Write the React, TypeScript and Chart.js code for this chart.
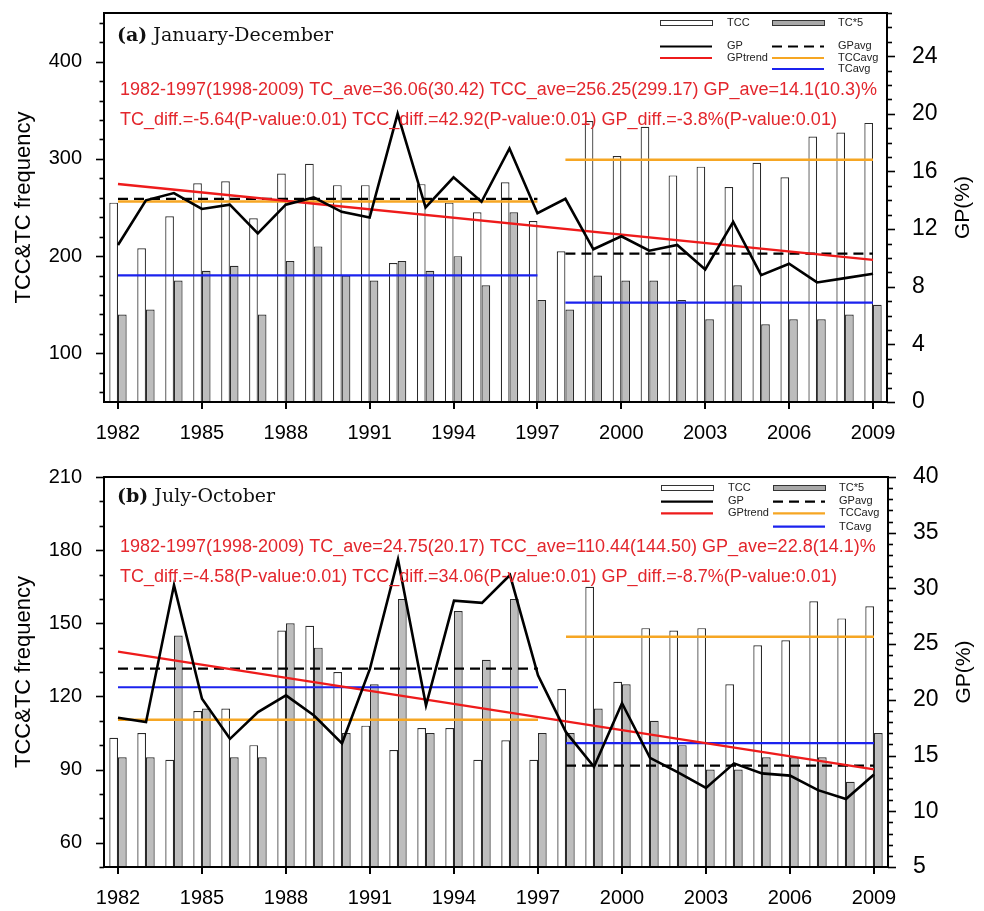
import React, { useEffect, useRef } from 'react';
import { Chart, registerables } from 'chart.js';

Chart.register(...registerables);

// ---------------- data ----------------
const YEARS = [
  1982, 1983, 1984, 1985, 1986, 1987, 1988, 1989, 1990, 1991, 1992, 1993, 1994, 1995,
  1996, 1997, 1998, 1999, 2000, 2001, 2002, 2003, 2004, 2005, 2006, 2007, 2008, 2009,
];
const SPLIT_YEAR = 1998;
const X_LABEL_EVERY = 3;

// (a) January-December
const TCC_A = [255, 208, 241, 275, 277, 239, 285, 295, 273, 273, 193, 274, 255, 245, 276, 236,
  205, 339, 303, 333, 283, 292, 271, 296, 281, 323, 327, 337];
const TC5_A = [140, 145, 175, 185, 190, 140, 195, 210, 180, 175, 195, 185, 200, 170, 245, 155,
  145, 180, 175, 175, 155, 135, 170, 130, 135, 135, 140, 150];
const GP_A = [10.9, 14.0, 14.5, 13.4, 13.7, 11.7, 13.7, 14.2, 13.2, 12.8, 20.0, 13.5, 15.6, 13.9, 17.6, 13.1,
  14.1, 10.6, 11.5, 10.5, 10.9, 9.2, 12.5, 8.8, 9.6, 8.3, 8.6, 8.9];
const GP_AVG_A = [14.1, 10.3];
const TCC_AVG_A = [256.25, 299.17];
const TC_AVG_A = [180.3, 152.1];
const GP_TREND_A = [15.13, 9.86];
const STATS_A = [
  '1982-1997(1998-2009) TC_ave=36.06(30.42) TCC_ave=256.25(299.17) GP_ave=14.1(10.3)%',
  'TC_diff.=-5.64(P-value:0.01) TCC_diff.=42.92(P-value:0.01) GP_diff.=-3.8%(P-value:0.01)',
];
const LEFT_TICKS_A = [100, 200, 300, 400];
const RIGHT_TICKS_A = [0, 4, 8, 12, 16, 20, 24];

// (b) July-October
const TCC_B = [103, 105, 94, 114, 115, 100, 147, 149, 130, 108, 98, 107, 107, 94, 102, 94,
  123, 165, 126, 148, 147, 148, 125, 141, 143, 159, 152, 157];
const TC5_B = [95, 95, 145, 115, 95, 95, 150, 140, 105, 125, 160, 105, 155, 135, 160, 105,
  105, 115, 125, 110, 100, 90, 90, 95, 95, 95, 85, 105];
const GP_B = [18.4, 18.0, 30.3, 20.1, 16.5, 18.9, 20.4, 18.6, 16.1, 22.8, 32.6, 19.5, 28.9, 28.7, 31.2, 22.2,
  17.1, 14.0, 19.7, 14.8, 13.5, 12.1, 14.3, 13.4, 13.2, 11.9, 11.1, 13.3];
const GP_AVG_B = [22.8, 14.1];
const TCC_AVG_B = [110.44, 144.5];
const TC_AVG_B = [123.75, 100.85];
const GP_TREND_B = [24.32, 13.77];
const STATS_B = [
  '1982-1997(1998-2009) TC_ave=24.75(20.17) TCC_ave=110.44(144.50) GP_ave=22.8(14.1)%',
  'TC_diff.=-4.58(P-value:0.01) TCC_diff.=34.06(P-value:0.01) GP_diff.=-8.7%(P-value:0.01)',
];
const LEFT_TICKS_B = [60, 90, 120, 150, 180, 210];
const RIGHT_TICKS_B = [5, 10, 15, 20, 25, 30, 35, 40];

const LEFT_TITLE = 'TCC&TC frequency';
const RIGHT_TITLE = 'GP(%)';

// ---------------- styles ----------------
const FONT = "'Liberation Sans', Arial, Helvetica, sans-serif";
const SERIF = "'DejaVu Serif', 'Liberation Serif', serif";
const RED_TEXT = '#e3262c';
const RED_LINE = '#ee1b1b';
const ORANGE = '#f6a623';
const BLUE = '#1b22ee';
const GRAY = '#bdbdbd';

type PanelData = {
  tcc: number[]; tc5: number[]; gp: number[];
  gpAvg: number[]; tccAvg: number[]; tcAvg: number[]; gpTrend: number[];
  stats: string[]; labelBold: string; labelRest: string;
  leftTicks: number[]; rightTicks: number[];
};

type Layout = {
  top: number; height: number; padTop: number; xHeight: number; rightWidth: number;
  leftMin: number; leftMax: number; leftMinor: number;
  rightMin: number; rightMax: number; rightMinor: number;
  legendRows: number[]; statsRows: number[]; labelRow: number;
};

const PANEL_A: PanelData = {
  tcc: TCC_A, tc5: TC5_A, gp: GP_A, gpAvg: GP_AVG_A, tccAvg: TCC_AVG_A, tcAvg: TC_AVG_A,
  gpTrend: GP_TREND_A, stats: STATS_A, labelBold: '(a)', labelRest: ' January-December',
  leftTicks: LEFT_TICKS_A, rightTicks: RIGHT_TICKS_A,
};
const PANEL_B: PanelData = {
  tcc: TCC_B, tc5: TC5_B, gp: GP_B, gpAvg: GP_AVG_B, tccAvg: TCC_AVG_B, tcAvg: TC_AVG_B,
  gpTrend: GP_TREND_B, stats: STATS_B, labelBold: '(b)', labelRest: ' July-October',
  leftTicks: LEFT_TICKS_B, rightTicks: RIGHT_TICKS_B,
};

const LAYOUT_A: Layout = {
  top: 0, height: 455, padTop: 13, xHeight: 53, rightWidth: 97,
  leftMin: 50, leftMax: 450, leftMinor: 20, rightMin: 0, rightMax: 27, rightMinor: 1,
  legendRows: [10, 33.5, 45, 56], statsRows: [77, 107], labelRow: 23,
};
const LAYOUT_B: Layout = {
  top: 455, height: 456, padTop: 22, xHeight: 44, rightWidth: 96,
  leftMin: 50, leftMax: 210, leftMinor: 10, rightMin: 5, rightMax: 40, rightMinor: 1,
  legendRows: [11, 24.7, 36.3, 49.7], statsRows: [69.7, 99.7], labelRow: 19.7,
};

function overlayPlugin(p: PanelData, L: Layout) {
  return {
    id: 'overlay',
    afterDraw(chart: any) {
      const ctx: CanvasRenderingContext2D = chart.ctx;
      const a = chart.chartArea;
      const xs = chart.scales.x;
      const yl = chart.scales.y;
      const yr = chart.scales.y1;
      ctx.save();
      ctx.strokeStyle = '#000';
      ctx.fillStyle = '#000';
      ctx.lineWidth = 1.6;
      ctx.setLineDash([]);
      // left ticks
      for (let v = Math.ceil(L.leftMin / L.leftMinor) * L.leftMinor; v <= L.leftMax + 1e-9; v += L.leftMinor) {
        const py = Math.round(yl.getPixelForValue(v)) + 0.5;
        const len = p.leftTicks.includes(v) ? 8 : 4.5;
        ctx.beginPath(); ctx.moveTo(a.left - len, py); ctx.lineTo(a.left, py); ctx.stroke();
      }
      // right ticks
      for (let v = Math.ceil(L.rightMin / L.rightMinor) * L.rightMinor; v <= L.rightMax + 1e-9; v += L.rightMinor) {
        const py = Math.round(yr.getPixelForValue(v)) + 0.5;
        const len = p.rightTicks.includes(v) ? 8 : 5;
        ctx.beginPath(); ctx.moveTo(a.right, py); ctx.lineTo(a.right + len, py); ctx.stroke();
      }
      // x ticks
      ctx.lineWidth = 2;
      for (let i = 0; i < YEARS.length; i += X_LABEL_EVERY) {
        const px = Math.round(xs.getPixelForValue(i));
        ctx.beginPath(); ctx.moveTo(px, a.bottom); ctx.lineTo(px, a.bottom + 7); ctx.stroke();
      }
      // frame
      ctx.lineWidth = 2;
      ctx.strokeRect(a.left, a.top, a.right - a.left, a.bottom - a.top);

      // legend
      const c1s = a.right - 227, c1e = a.right - 175, c1t = a.right - 160;
      const c2s = a.right - 115, c2e = a.right - 63, c2t = a.right - 49;
      const r = L.legendRows.map((o) => a.top + o);
      ctx.lineWidth = 1;
      ctx.fillStyle = '#fff';
      ctx.fillRect(c1s, r[0] - 2.5, c1e - c1s, 5);
      ctx.strokeStyle = '#333';
      ctx.strokeRect(c1s + 0.5, r[0] - 2.5, c1e - c1s, 5);
      ctx.fillStyle = '#a8a8a8';
      ctx.fillRect(c2s, r[0] - 2.5, c2e - c2s, 5);
      ctx.strokeRect(c2s + 0.5, r[0] - 2.5, c2e - c2s, 5);
      const seg = (x0: number, x1: number, y: number, col: string, w: number, dash: number[] = []) => {
        ctx.beginPath(); ctx.setLineDash(dash); ctx.strokeStyle = col; ctx.lineWidth = w;
        ctx.moveTo(x0, y); ctx.lineTo(x1, y); ctx.stroke(); ctx.setLineDash([]);
      };
      seg(c1s, c1e, r[1], '#000', 2.2);
      seg(c2s, c2e, r[1], '#000', 2.2, [10, 6]);
      seg(c1s, c1e, r[2], RED_LINE, 2.2);
      seg(c2s, c2e, r[2], ORANGE, 2.2);
      seg(c2s, c2e, r[3], BLUE, 2.2);
      ctx.fillStyle = '#222';
      ctx.font = `11px ${FONT}`;
      ctx.textAlign = 'left';
      ctx.textBaseline = 'middle';
      ctx.fillText('TCC', c1t, r[0]);
      ctx.fillText('TC*5', c2t, r[0]);
      ctx.fillText('GP', c1t, r[1] - 1);
      ctx.fillText('GPavg', c2t, r[1] - 1);
      ctx.fillText('GPtrend', c1t, r[2]);
      ctx.fillText('TCCavg', c2t, r[2]);
      ctx.fillText('TCavg', c2t, r[3]);

      // stats text
      ctx.fillStyle = RED_TEXT;
      ctx.font = `18px ${FONT}`;
      ctx.fillText(p.stats[0], a.left + 16, a.top + L.statsRows[0]);
      ctx.fillText(p.stats[1], a.left + 16, a.top + L.statsRows[1]);

      // panel label
      ctx.fillStyle = '#111';
      ctx.font = `bold 19px ${SERIF}`;
      ctx.fillText(p.labelBold, a.left + 13, a.top + L.labelRow);
      const w = ctx.measureText(p.labelBold).width;
      ctx.font = `19px ${SERIF}`;
      ctx.fillText(p.labelRest, a.left + 13 + w, a.top + L.labelRow);

      // axis titles
      const cy = (a.top + a.bottom) / 2;
      ctx.fillStyle = '#000';
      ctx.textAlign = 'center';
      ctx.save();
      ctx.translate(24, cy);
      ctx.rotate(-Math.PI / 2);
      ctx.font = `22px ${FONT}`;
      ctx.fillText(LEFT_TITLE, 0, 0);
      ctx.restore();
      ctx.save();
      ctx.translate(a.right + 76, cy);
      ctx.rotate(-Math.PI / 2);
      ctx.font = `21px ${FONT}`;
      ctx.fillText(RIGHT_TITLE, 0, 0);
      ctx.restore();
      ctx.restore();
    },
  };
}

function buildConfig(p: PanelData, L: Layout): any {
  const labels = YEARS.map(String);
  const split = (vals: number[]) => [
    YEARS.map((y) => (y < SPLIT_YEAR ? vals[0] : null)),
    YEARS.map((y) => (y >= SPLIT_YEAR ? vals[1] : null)),
  ];
  const trend = YEARS.map((_, i) => (i === 0 ? p.gpTrend[0] : i === YEARS.length - 1 ? p.gpTrend[1] : null));
  const lineBase = { type: 'line', pointRadius: 0, pointHoverRadius: 0, fill: false, tension: 0 };
  const barBase = {
    type: 'bar', yAxisID: 'y', base: L.leftMin, order: 10, borderColor: '#2a2a2a', borderWidth: 1.2,
    categoryPercentage: 0.62, barPercentage: 1.0, borderSkipped: 'start',
  };
  const datasets: any[] = [
    { ...lineBase, label: 'GP', data: p.gp, borderColor: '#000', borderWidth: 2.6, yAxisID: 'y1', order: 1 },
    { ...lineBase, label: 'GPtrend', data: trend, spanGaps: true, borderColor: RED_LINE, borderWidth: 2.3, yAxisID: 'y1', order: 2 },
    ...split(p.gpAvg).map((d) => ({ ...lineBase, label: 'GPavg', data: d, borderColor: '#000', borderDash: [10, 6], borderWidth: 2.3, yAxisID: 'y1', order: 3 })),
    ...split(p.tccAvg).map((d) => ({ ...lineBase, label: 'TCCavg', data: d, borderColor: ORANGE, borderWidth: 2.5, yAxisID: 'y', order: 4 })),
    ...split(p.tcAvg).map((d) => ({ ...lineBase, label: 'TCavg', data: d, borderColor: BLUE, borderWidth: 2.2, yAxisID: 'y', order: 4 })),
    { ...barBase, label: 'TCC', data: p.tcc, backgroundColor: '#ffffff' },
    { ...barBase, label: 'TC*5', data: p.tc5, backgroundColor: GRAY },
  ];
  const noPadV = (s: any) => { s.paddingTop = 0; s.paddingBottom = 0; };
  return {
    type: 'bar',
    data: { labels, datasets },
    options: {
      responsive: false,
      animation: false,
      devicePixelRatio: 1,
      layout: { padding: { top: L.padTop, left: 0, right: 0, bottom: 0 }, autoPadding: false },
      plugins: { legend: { display: false }, tooltip: { enabled: false }, title: { display: false } },
      scales: {
        x: {
          type: 'category', offset: true,
          grid: { display: false }, border: { display: false },
          ticks: {
            autoSkip: false, maxRotation: 0, minRotation: 0, padding: 11, color: '#000',
            font: { family: FONT, size: 20 },
            callback: (_v: any, i: number) => (i % X_LABEL_EVERY === 0 ? String(YEARS[i]) : ''),
          },
          afterFit: (s: any) => { s.height = L.xHeight; s.paddingLeft = 0; s.paddingRight = 0; },
        },
        y: {
          type: 'linear', position: 'left', min: L.leftMin, max: L.leftMax,
          grid: { display: false }, border: { display: false },
          ticks: { autoSkip: false, padding: 14, color: '#000', font: { family: FONT, size: 20 } },
          afterBuildTicks: (s: any) => { s.ticks = p.leftTicks.map((v) => ({ value: v })); },
          afterFit: (s: any) => { s.width = 104; noPadV(s); },
        },
        y1: {
          type: 'linear', position: 'right', min: L.rightMin, max: L.rightMax,
          grid: { display: false }, border: { display: false },
          ticks: { autoSkip: false, padding: 17, color: '#000', font: { family: FONT, size: 23 } },
          afterBuildTicks: (s: any) => { s.ticks = p.rightTicks.map((v) => ({ value: v })); },
          afterFit: (s: any) => { s.width = L.rightWidth; noPadV(s); },
        },
      },
    },
    plugins: [overlayPlugin(p, L)],
  };
}

function Panel({ data, layout }: { data: PanelData; layout: Layout }) {
  const ref = useRef<HTMLCanvasElement | null>(null);
  useEffect(() => {
    if (!ref.current) return;
    const chart = new Chart(ref.current, buildConfig(data, layout));
    return () => chart.destroy();
  }, [data, layout]);
  return (
    <canvas
      ref={ref}
      width={984}
      height={layout.height}
      style={{ position: 'absolute', left: 0, top: layout.top, width: 984, height: layout.height, display: 'block' }}
    />
  );
}

export default function App() {
  return (
    <div style={{ position: 'absolute', left: 0, top: 0, width: 984, height: 911, background: '#fff' }}>
      <Panel data={PANEL_A} layout={LAYOUT_A} />
      <Panel data={PANEL_B} layout={LAYOUT_B} />
    </div>
  );
}
